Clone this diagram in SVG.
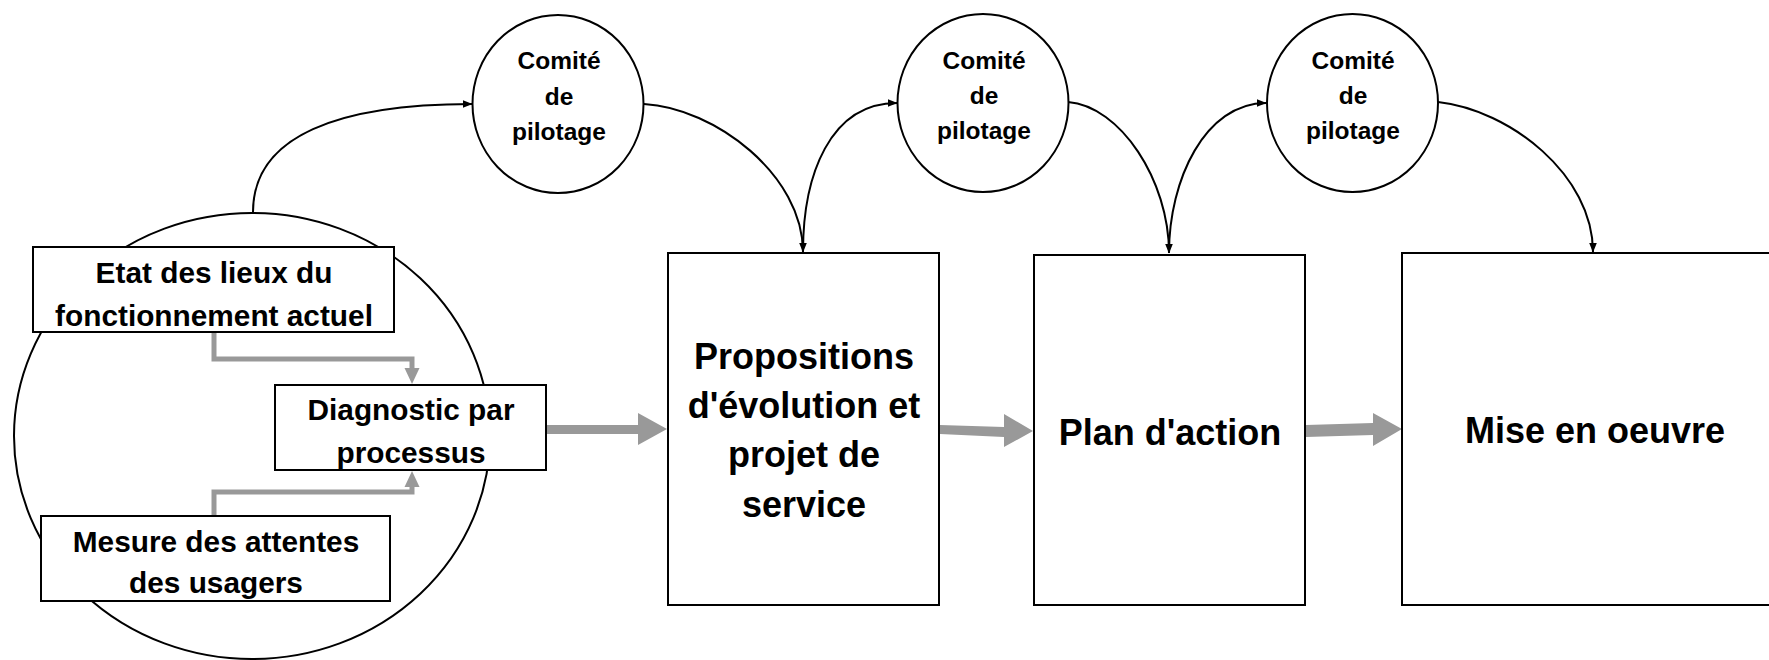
<svg xmlns="http://www.w3.org/2000/svg" width="1769" height="660" viewBox="0 0 1769 660">
  <style>
    .shape { fill: #ffffff; stroke: #000000; stroke-width: 2; }
    .lbl { font-family: "Liberation Sans", Arial, sans-serif; font-weight: bold; fill: #000000; text-anchor: middle; }
    .small { font-size: 24.5px; }
    .mid { font-size: 29.8px; }
    .big { font-size: 36px; }
    .conn { fill: none; stroke: #000000; stroke-width: 2; }
    .gline { fill: none; stroke: #999999; stroke-width: 5; }
    .garrow { fill: #999999; stroke: none; }
  </style>
  <defs>
    <marker id="ah" markerUnits="userSpaceOnUse" markerWidth="10" markerHeight="8" refX="9.5" refY="4" orient="auto">
      <path d="M0,0 L10,4 L0,8 z" fill="#000000"/>
    </marker>
  </defs>
  <rect width="1769" height="660" fill="#ffffff"/>

  <g id="group-ellipse">
    <ellipse class="shape" cx="252" cy="436" rx="238" ry="223"/>
  </g>

  <g id="connectors">
    <path class="conn" d="M253,212 C253,135 340,104 472,104" marker-end="url(#ah)"/>
    <path class="conn" d="M644,104 C715,108 803,175 803,252" marker-end="url(#ah)"/>
    <path class="conn" d="M803,252 C803,175 830,103 897,103" marker-end="url(#ah)"/>
    <path class="conn" d="M1068,102 C1120,106 1169,180 1169,253" marker-end="url(#ah)"/>
    <path class="conn" d="M1169,253 C1169,180 1205,103 1266,103" marker-end="url(#ah)"/>
    <path class="conn" d="M1438,102 C1510,110 1593,175 1593,252" marker-end="url(#ah)"/>
    <path class="gline" d="M214,333 V359 H412 V370"/>
    <polygon class="garrow" points="404.5,368 419.5,368 412,384"/>
    <path class="gline" d="M214,515 V492 H412 V486"/>
    <polygon class="garrow" points="404.5,487 419.5,487 412,471"/>
    <polygon class="garrow" points="547,425 638,425 638,413 667,429 638,445 638,434 547,434"/>
    <polygon class="garrow" points="940,425 1004,427 1004,414 1033,431 1004,447 1004,437 940,434"/>
    <polygon class="garrow" points="1306,425 1373,423 1373,413 1402,429 1373,446 1373,435 1306,437"/>
  </g>

  <g id="node-etat">
    <rect class="shape" x="33" y="247" width="361" height="85"/>
    <text class="lbl mid" x="214" y="283">Etat des lieux du</text>
    <text class="lbl mid" x="214" y="326">fonctionnement actuel</text>
  </g>
  <g id="node-diagnostic">
    <rect class="shape" x="275" y="385" width="271" height="85"/>
    <text class="lbl mid" x="411" y="420">Diagnostic par</text>
    <text class="lbl mid" x="411" y="463">processus</text>
  </g>
  <g id="node-mesure">
    <rect class="shape" x="41" y="516" width="349" height="85"/>
    <text class="lbl mid" x="216" y="552">Mesure des attentes</text>
    <text class="lbl mid" x="216" y="593">des usagers</text>
  </g>

  <g id="node-comite-1">
    <ellipse class="shape" cx="558" cy="104" rx="85.5" ry="89"/>
    <text class="lbl small" x="559" y="69">Comité</text>
    <text class="lbl small" x="559" y="104.5">de</text>
    <text class="lbl small" x="559" y="140">pilotage</text>
  </g>
  <g id="node-comite-2">
    <ellipse class="shape" cx="983" cy="103" rx="85.5" ry="89"/>
    <text class="lbl small" x="984" y="68.5">Comité</text>
    <text class="lbl small" x="984" y="104">de</text>
    <text class="lbl small" x="984" y="139">pilotage</text>
  </g>
  <g id="node-comite-3">
    <ellipse class="shape" cx="1352.5" cy="103" rx="85.5" ry="89"/>
    <text class="lbl small" x="1353" y="68.5">Comité</text>
    <text class="lbl small" x="1353" y="104">de</text>
    <text class="lbl small" x="1353" y="139">pilotage</text>
  </g>

  <g id="node-propositions">
    <rect class="shape" x="668" y="253" width="271" height="352"/>
    <text class="lbl big" x="804" y="369">Propositions</text>
    <text class="lbl big" x="804" y="418">d'évolution et</text>
    <text class="lbl big" x="804" y="467">projet de</text>
    <text class="lbl big" x="804" y="517">service</text>
  </g>
  <g id="node-plan">
    <rect class="shape" x="1034" y="255" width="271" height="350"/>
    <text class="lbl big" x="1170" y="445">Plan d'action</text>
  </g>
  <g id="node-mise">
    <rect class="shape" x="1402" y="253" width="390" height="352"/>
    <text class="lbl big" x="1595" y="443">Mise en oeuvre</text>
  </g>
</svg>
